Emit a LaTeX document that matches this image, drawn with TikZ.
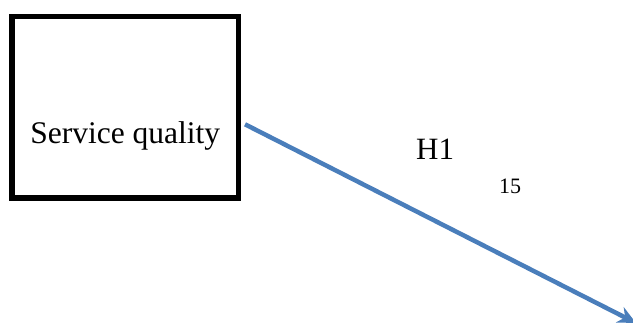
\documentclass[tikz,border=0pt]{standalone}
\usepackage{fontspec}
\setmainfont{Liberation Serif}
\usepackage{tikz}
\usetikzlibrary{arrows.meta,positioning,calc}
\definecolor{linkblue}{HTML}{4A7EBB}

\begin{document}
\begin{tikzpicture}[
    x=1pt, y=-1pt,
    box/.style={draw, line width=5.3pt, inner sep=0pt, minimum width=226.3pt,
                text height=126.6pt, text depth=54.7pt,
                font=\fontsize{31.5}{38}\selectfont},
    lbl/.style={inner sep=0pt, anchor=base west},
    link/.style={draw=linkblue, line width=4.5pt, -{Stealth[length=18pt,width=17pt]}},
    ]
\useasboundingbox (0,0) rectangle (633,322);
\node[box] (sq) at (125.2,107.3) {Service quality};

\node[lbl, font=\fontsize{31}{37}\selectfont] (h1) at (416,159) {H1};
\node[lbl, font=\fontsize{22}{26}\selectfont] (num) at (499,193) {15};

\coordinate (tip) at (636,323);
\draw[link] ($(sq.east)+(4,17)$) -- (tip);
\end{tikzpicture}
\end{document}
